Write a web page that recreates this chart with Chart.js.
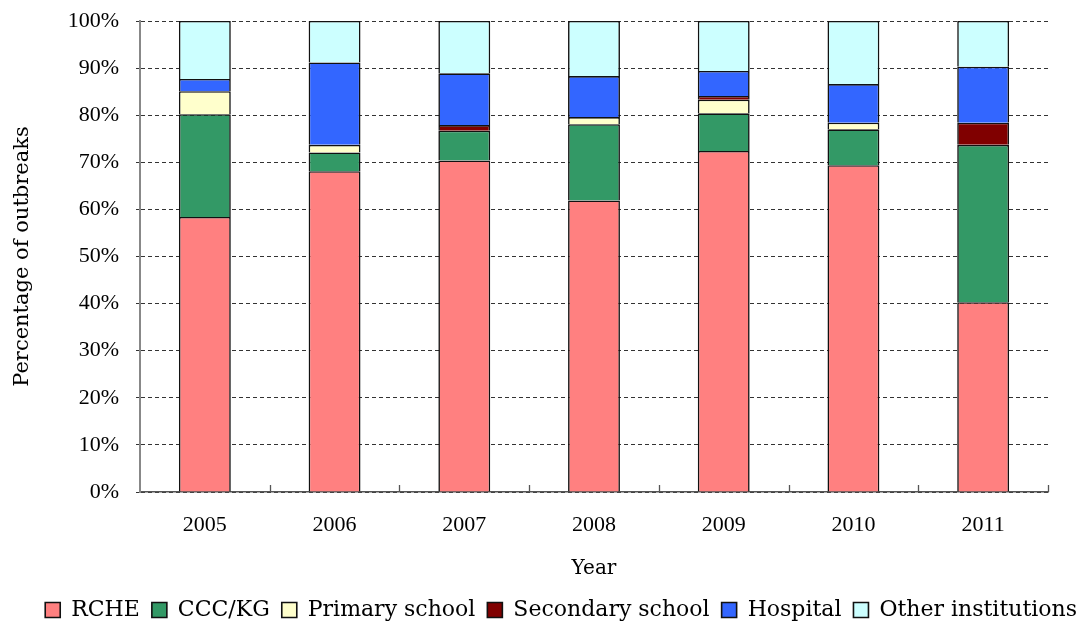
<!DOCTYPE html>
<html>
<head>
<meta charset="utf-8">
<script src="https://cdn.jsdelivr.net/npm/chart.js@4/dist/chart.umd.min.js"></script>
<style>
  html, body { margin: 0; padding: 0; background: #fff; }
  #wrap { width: 1089px; height: 621px; }
</style>
</head>
<body>
<div id="wrap"><canvas id="c" width="1089" height="621"></canvas></div>
<script>
// Outbreak setting shares by year (percent of all outbreaks)
const years = ['2005', '2006', '2007', '2008', '2009', '2010', '2011'];
const rche       = [58.4, 68.1, 70.4, 61.9, 72.4, 69.4, 40.3];
const cccKg      = [21.8,  4.0,  6.3, 16.2,  8.0,  7.6, 33.4];
const primary    = [ 4.9,  1.6,  0.0,  1.5,  2.9,  1.4,  0.0];
const secondary  = [ 0.0,  0.0,  1.2,  0.0,  0.8,  0.0,  4.7];
const hospital   = [ 2.6, 17.5, 11.0,  8.7,  5.3,  8.2, 11.9];
const otherInst  = [12.3,  8.8, 11.1, 11.7, 10.6, 13.4,  9.7];
const yTicks     = [0, 10, 20, 30, 40, 50, 60, 70, 80, 90, 100];

const NUM_FONT = "'Liberation Serif', 'Times New Roman', serif";
const TXT_FONT = "'DejaVu Serif', 'Liberation Serif', serif";

function series(label, data, color) {
  return {
    label, data,
    backgroundColor: color,
    borderColor: '#111',
    borderWidth: 1.6,
    barPercentage: 0.4,
    categoryPercentage: 1.0
  };
}

// Short upward tick marks on the category axis, between categories
const innerTicks = {
  id: 'innerTicks',
  afterDatasetsDraw(chart) {
    const x = chart.scales.x, a = chart.chartArea, ctx = chart.ctx;
    ctx.save();
    ctx.strokeStyle = '#555';
    ctx.lineWidth = 1.3;
    for (let i = 0; i < years.length; i++) {
      const next = i + 1 < years.length ? x.getPixelForValue(i + 1) : null;
      const px = next !== null ? (x.getPixelForValue(i) + next) / 2 : a.right;
      ctx.beginPath();
      ctx.moveTo(Math.round(px) + 0.5, a.bottom);
      ctx.lineTo(Math.round(px) + 0.5, a.bottom - 7);
      ctx.stroke();
    }
    ctx.restore();
  }
};

// Nudge the legend row down toward the bottom edge
const legendNudge = {
  id: 'legendNudge',
  afterLayout(chart) {
    const lg = chart.legend;
    if (lg) { lg.top += 10; lg.bottom += 10; }
  }
};

new Chart(document.getElementById('c'), {
  type: 'bar',
  data: {
    labels: years,
    datasets: [
      series('RCHE', rche, '#FF8080'),
      series('CCC/KG', cccKg, '#339966'),
      series('Primary school', primary, '#FFFFCC'),
      series('Secondary school', secondary, '#800000'),
      series('Hospital', hospital, '#3366FF'),
      series('Other institutions', otherInst, '#CCFFFF')
    ]
  },
  plugins: [innerTicks, legendNudge],
  options: {
    responsive: false,
    animation: false,
    layout: { padding: { top: 21, right: 0, left: 0, bottom: 0 } },
    plugins: {
      tooltip: { enabled: false },
      legend: {
        position: 'bottom',
        align: 'end',
        labels: {
          font: { family: TXT_FONT, size: 22 },
          color: '#000',
          boxWidth: 15,
          boxHeight: 15,
          padding: 12,
          useBorderRadius: false
        }
      }
    },
    scales: {
      x: {
        stacked: true,
        offset: true,
        grid: { display: false, drawTicks: false },
        border: { display: true, color: '#555', width: 1.5 },
        ticks: { font: { family: NUM_FONT, size: 22 }, color: '#000', padding: 20 },
        title: { display: true, text: 'Year', font: { family: TXT_FONT, size: 20 }, color: '#000', padding: { top: 0, bottom: -4 } },
        afterFit(s) { s.height = 85; }
      },
      y: {
        stacked: true,
        min: 0, max: 100,
        afterBuildTicks(s) { s.ticks = yTicks.map(v => ({ value: v })); },
        grid: {
          color: '#333',
          lineWidth: 1,
          tickLength: 4,
          tickColor: '#333'
        },
        border: { display: true, color: '#888', width: 2, dash: [4, 3] },
        ticks: {
          font: { family: NUM_FONT, size: 22 }, color: '#000', padding: 17,
          callback: v => v + '%'
        },
        title: { display: true, text: 'Percentage of outbreaks', font: { family: TXT_FONT, size: 21 }, color: '#000', padding: { top: 10, bottom: 0 } },
        afterFit(s) { s.width = 140; s.paddingTop = 0; s.paddingBottom = 0; }
      },
      // empty right-hand margin box so the legend can use the full width
      yRight: {
        position: 'right',
        display: true,
        grid: { display: false, drawTicks: false },
        border: { display: false },
        ticks: { display: false },
        afterFit(s) { s.width = 41; s.paddingTop = 0; s.paddingBottom = 0; }
      }
    }
  }
});
</script>
</body>
</html>
